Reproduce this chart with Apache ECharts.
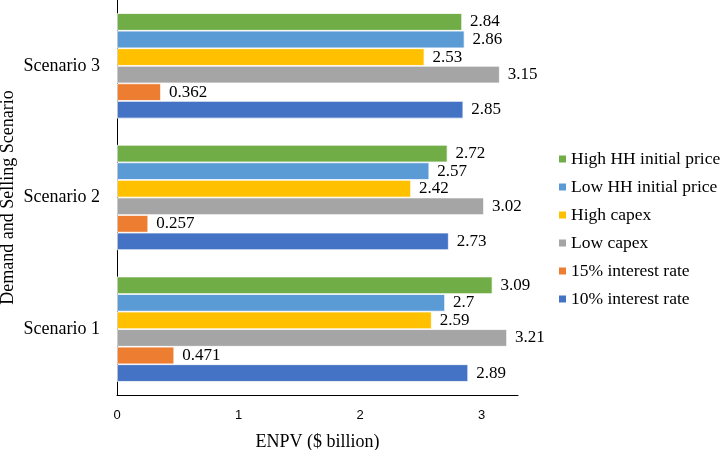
<!DOCTYPE html>
<html>
<head>
<meta charset="utf-8">
<script src="https://cdn.jsdelivr.net/npm/echarts@6/dist/echarts.min.js"></script>
<style>html,body{margin:0;padding:0;background:#fff;}#c{width:721px;height:450px;}</style>
</head>
<body>
<div id="c"></div>
<script>
const categories = ['Scenario 1', 'Scenario 2', 'Scenario 3'];
// listed top-to-bottom within each category (legend order)
const seriesNames = ['High HH initial price', 'Low HH initial price', 'High capex', 'Low capex', '15% interest rate', '10% interest rate'];
const highHH = [3.09, 2.72, 2.84];
const lowHH = [2.7, 2.57, 2.86];
const highCapex = [2.59, 2.42, 2.53];
const lowCapex = [3.21, 3.02, 3.15];
const rate15 = [0.471, 0.257, 0.362];
const rate10 = [2.89, 2.73, 2.85];
const xTicks = [0, 1, 2, 3];
const colors = ['#70AD47', '#5B9BD5', '#FFC000', '#A5A5A5', '#ED7D31', '#4472C4'];
const values = [highHH, lowHH, highCapex, lowCapex, rate15, rate10];

const serif = '"Liberation Serif", "Times New Roman", serif';
const chart = echarts.init(document.getElementById('c'));
chart.setOption({
  animation: false,
  grid: { left: 117, top: 0, width: 401, height: 395, containLabel: false, outerBoundsMode: 'none' },
  legend: {
    orient: 'vertical',
    left: 557,
    top: 150,
    padding: 0,
    itemWidth: 9,
    itemHeight: 9,
    itemGap: 10,
    icon: 'rect',
    data: seriesNames,
    textStyle: { fontFamily: serif, fontSize: 17.5, color: '#000', padding: [0, 0, 0, -1] }
  },
  xAxis: {
    type: 'value',
    min: 0,
    max: 3.3,
    interval: 1,
    name: 'ENPV ($ billion)',
    nameLocation: 'middle',
    nameGap: 38,
    nameMoveOverlap: false,
    nameTextStyle: { fontFamily: serif, fontSize: 18, color: '#000' },
    axisLine: { show: true, lineStyle: { color: '#000', width: 1 } },
    axisTick: { show: false },
    splitLine: { show: false },
    axisLabel: {
      margin: 14,
      fontFamily: '"Liberation Sans", Arial, sans-serif',
      fontSize: 13,
      color: '#000',
      showMaxLabel: false,
      formatter: v => (xTicks.indexOf(v) >= 0 ? String(v) : '')
    }
  },
  yAxis: {
    type: 'category',
    data: categories,
    name: 'Demand and Selling Scenario',
    nameLocation: 'middle',
    nameGap: 100,
    nameMoveOverlap: false,
    nameTextStyle: { fontFamily: serif, fontSize: 18, color: '#000' },
    axisLine: { show: true, lineStyle: { color: '#000', width: 1 } },
    axisTick: { show: false },
    axisLabel: { margin: 17, fontFamily: serif, fontSize: 18, color: '#000' }
  },
  series: seriesNames.map((n, i) => ({
    name: n,
    type: 'bar',
    data: values[i],
    barGap: '0%',
    barCategoryGap: '20%',
    itemStyle: { color: colors[i], borderColor: '#fff', borderWidth: 0.75 },
    label: {
      show: true,
      position: 'right',
      distance: 8,
      fontFamily: serif,
      fontSize: 17,
      color: '#000'
    }
  }))
});
</script>
</body>
</html>
